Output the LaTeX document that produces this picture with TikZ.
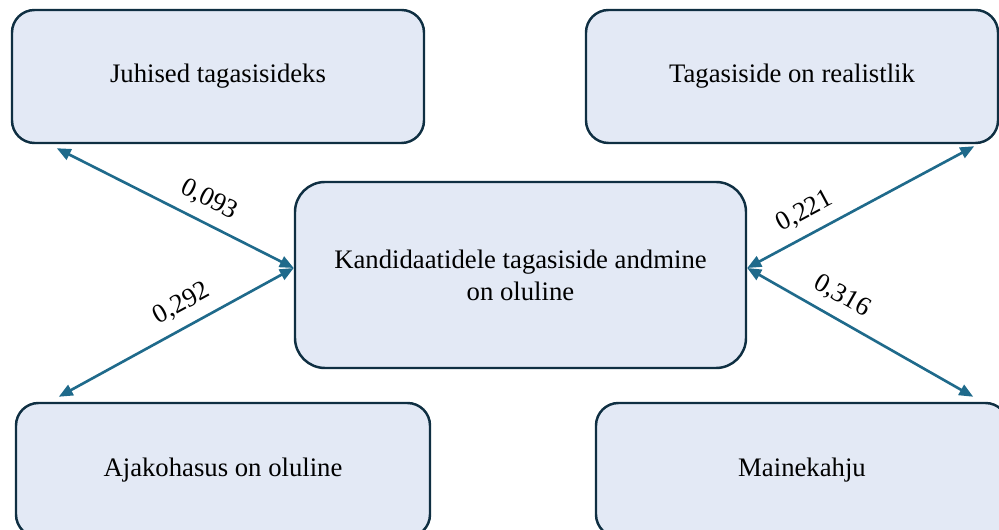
\documentclass[tikz,border=0pt]{standalone}
\usepackage{fontspec}
\setmainfont{Liberation Serif}
\usepackage{tikz}
\usetikzlibrary{calc,arrows.meta}
\definecolor{boxfill}{HTML}{E3E9F5}
\definecolor{boxline}{HTML}{0F2F42}
\definecolor{arrowcol}{HTML}{1F6A8B}

\begin{document}
\begin{tikzpicture}
\tikzset{box/.style = {shape=rectangle,draw=boxline,fill=boxfill,line width=1.4pt,rounded corners=4.5mm,align=center,font=\fontsize{15.2}{18.2}\selectfont}}
\tikzset{edge/.style = {<->,> = {Triangle[length=2.8mm,width=2.3mm]},draw=arrowcol,line width=1.5pt}}
\tikzset{weight/.style = {sloped,above=2.5pt,font=\fontsize{15.2}{17}\selectfont}}
\useasboundingbox (0,0) rectangle (19.98,10.6);
%\draw (0,0) rectangle (19.98,10.6);
\node[box,minimum width=8.24cm,minimum height=2.66cm] (a) at (4.36,9.07) {Juhised tagasisideks};
\node[box,minimum width=8.24cm,minimum height=2.66cm] (b) at (15.84,9.07) {Tagasiside on realistlik};
\node[box,minimum width=9.02cm,minimum height=3.72cm,rounded corners=6mm] (c) at (10.41,5.1) {Kandidaatidele tagasiside andmine\\on oluline};
\node[box,minimum width=8.28cm,minimum height=2.68cm] (d) at (4.46,1.2) {Ajakohasus on oluline};
\node[box,minimum width=8.24cm,minimum height=2.68cm] (e) at (16.04,1.2) {Mainekahju};
\draw[edge] ([xshift=9.2mm,yshift=-0.8mm]a.south west) to node[weight,pos=0.6] {0,093} ([yshift=1.4mm]c.west);
\draw[edge] ([yshift=1.4mm]c.west) to node[weight,pos=0.43] {0,292} ([xshift=8.8mm,yshift=1mm]d.north west);
\draw[edge] ([yshift=1.4mm]c.east) to node[weight,pos=0.3] {0,221} ([xshift=-5mm,yshift=-0.4mm]b.south east);
\draw[edge] ([yshift=1.4mm]c.east) to node[weight,pos=0.37] {0,316} ([xshift=-7.2mm,yshift=1mm]e.north east);
\end{tikzpicture}
\end{document}
